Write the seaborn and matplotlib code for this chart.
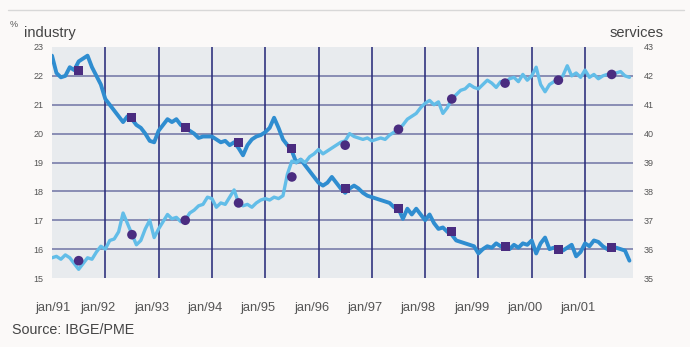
import numpy as np
import pandas as pd
import matplotlib
matplotlib.use("Agg")
import matplotlib.pyplot as plt
import matplotlib.transforms as mtransforms
import seaborn as sns
from matplotlib.lines import Line2D

# ---------------- data (monthly, jan/1991 .. nov/2001) ----------------
start_year = 1991
n_months = 131

industry = [
    # 1991
    22.7, 22.1, 21.95, 22.0, 22.3, 22.2, 22.5, 22.6, 22.7, 22.3, 22.0, 21.7,
    # 1992
    21.2, 21.0, 20.8, 20.6, 20.4, 20.6, 20.5, 20.3, 20.2, 20.0, 19.75, 19.7,
    # 1993
    20.1, 20.3, 20.5, 20.4, 20.5, 20.3, 20.2, 20.1, 20.0, 19.85, 19.9, 19.9,
    # 1994
    19.9, 19.8, 19.7, 19.75, 19.6, 19.7, 19.5, 19.25, 19.6, 19.8, 19.9, 19.95,
    # 1995
    20.05, 20.2, 20.55, 20.2, 19.8, 19.6, 19.4, 19.0, 19.1, 18.9, 18.7, 18.5,
    # 1996
    18.3, 18.2, 18.3, 18.5, 18.3, 18.1, 17.95, 18.1, 18.2, 18.1, 17.95, 17.85,
    # 1997
    17.8, 17.75, 17.7, 17.65, 17.6, 17.45, 17.4, 17.05, 17.4, 17.2, 17.4, 17.2,
    # 1998
    17.0, 17.2, 16.9, 16.7, 16.75, 16.6, 16.5, 16.3, 16.25, 16.2, 16.15, 16.1,
    # 1999
    15.85, 16.0, 16.1, 16.05, 16.2, 16.1, 16.1, 16.0, 16.15, 16.05, 16.2, 16.15,
    # 2000
    16.3, 15.85, 16.2, 16.4, 16.0, 16.05, 16.0, 15.95, 16.05, 16.15, 15.75, 15.9,
    # 2001
    16.2, 16.1, 16.3, 16.25, 16.1, 16.0, 16.05, 16.05, 16.0, 15.95, 15.6,
]

services = [
    # 1991
    35.7, 35.75, 35.65, 35.8, 35.7, 35.5, 35.3, 35.5, 35.7, 35.65, 35.9, 36.1,
    # 1992
    36.0, 36.3, 36.35, 36.6, 37.25, np.nan, np.nan, 36.15, 36.3, 36.7, 37.0, 36.4,
    # 1993
    36.7, 36.95, 37.2, 37.05, 37.1, 36.95, 37.0, 37.25, 37.35, 37.5, 37.55, 37.8,
    # 1994
    37.75, 37.45, 37.6, 37.55, 37.8, 38.05, 37.6, 37.5, 37.55, 37.45, 37.6, 37.7,
    # 1995
    37.75, 37.7, 37.8, 37.75, 37.85, 38.6, 39.05, 39.0, 39.1, 39.0, 39.2, 39.3,
    # 1996
    39.45, 39.3, 39.4, 39.5, 39.6, 39.7, 39.75, 40.0, 39.9, 39.85, 39.8, 39.85,
    # 1997
    39.75, 39.8, 39.85, 39.8, 39.95, 40.05, 40.15, 40.3, 40.5, 40.6, 40.7, 40.9,
    # 1998
    41.05, 41.15, 41.0, 41.1, 40.7, 40.9, 41.2, 41.35, 41.5, 41.55, 41.7, 41.6,
    # 1999
    41.55, 41.7, 41.85, 41.75, 41.6, 41.8, 41.75, 41.9, 41.95, 41.8, 42.05, 41.85,
    # 2000
    42.0, 42.3, 41.7, 41.45, 41.7, 41.8, 41.85, 42.0, 42.35, 42.0, 42.1, 41.95,
    # 2001
    42.2, 41.95, 42.05, 41.9, 42.0, 42.05, 42.05, 42.1, 42.15, 42.0, 41.95,
]

# annual averages (markers, mid-year)
years = list(range(1991, 2002))
industry_avg = [22.2, 20.55, 20.2, 19.7, 19.5, 18.1, 17.4, 16.6, 16.1, 16.0, 16.05]
services_avg = [35.6, 36.5, 37.0, 37.6, 38.5, 39.6, 40.15, 41.2, 41.75, 41.85, 42.05]

tick_labels = ["jan/91", "jan/92", "jan/93", "jan/94", "jan/95", "jan/96",
               "jan/97", "jan/98", "jan/99", "jan/00", "jan/01"]

# ---------------- frames ----------------
t = start_year + np.arange(n_months) / 12.0
df = pd.DataFrame({"t": t, "industry": industry, "services": services})
avg = pd.DataFrame({"t": np.array(years) + 0.5,
                    "industry": industry_avg, "services": services_avg})

# ---------------- style ----------------
sns.set_theme(style="white")
fam = ["Liberation Sans", "DejaVu Sans"]
plt.rcParams["font.family"] = fam

W, H = 690, 347
fig = plt.figure(figsize=(W / 100, H / 100), dpi=100)
fig.patch.set_facecolor("#fbf9f8")

left, right, top, bottom = 52, 633, 47, 278
ax = fig.add_axes([left / W, 1 - bottom / H, (right - left) / W, (bottom - top) / H])
ax.set_facecolor("#e8ebee")
ax2 = ax.twinx()

ind_col = "#2f8dd0"
srv_col = "#62bde8"
mk_col = "#4a2c80"

ax.set_xlim(start_year, start_year + 130.8 / 12)
ax.set_ylim(15, 23)
ax2.set_ylim(35, 43)

# grid
for yv in range(16, 23):
    ax.axhline(yv, color="#3d4185", lw=1.1, alpha=0.7, zorder=1)
for xv in years[1:]:
    ax.axvline(xv, color="#2c2f7c", lw=1.3, alpha=0.9, zorder=1)

sns.lineplot(data=df, x="t", y="industry", ax=ax, color=ind_col, lw=2.8,
             zorder=3, solid_joinstyle="round")
sns.lineplot(data=df, x="t", y="services", ax=ax2, color=srv_col, lw=2.4,
             zorder=3, solid_joinstyle="round")
sns.scatterplot(data=avg, x="t", y="industry", ax=ax, marker="s", s=42,
                color=mk_col, edgecolor="none", zorder=5)
sns.scatterplot(data=avg, x="t", y="services", ax=ax2, marker="o", s=48,
                color=mk_col, edgecolor="none", zorder=5)

# ticks
ax.set_xticks(years)
ax.set_xticklabels(tick_labels, fontsize=9.3, color="#555555")
ax.set_yticks(range(15, 24))
ax.set_yticklabels([str(v) for v in range(15, 24)], fontsize=6.5, color="#555555")
ax2.set_yticks(range(35, 44))
ax2.set_yticklabels([str(v) for v in range(35, 44)], fontsize=6.5, color="#555555")
ax.tick_params(axis="x", length=0, pad=17)
ax.tick_params(axis="y", length=0, pad=6)
ax2.tick_params(axis="y", length=0, pad=8)
for a in (ax, ax2):
    a.set_xlabel("")
    a.set_ylabel("")
    for s in a.spines.values():
        s.set_visible(False)

# x labels in the reference sit a little left of their gridlines
for i, lab in enumerate(ax.get_xticklabels()):
    dx = 1 if i == 0 else -7
    lab.set_transform(lab.get_transform() +
                      mtransforms.ScaledTranslation(dx / 100, 0, fig.dpi_scale_trans))

# texts
fig.text(10 / W, 1 - 27 / H, "%", fontsize=6.5, color="#555555")
fig.text(24 / W, 1 - 37 / H, "industry", fontsize=10.5, color="#444444")
fig.text(664 / W, 1 - 37 / H, "services", fontsize=10.5, color="#444444", ha="right")
fig.text(12 / W, 1 - 334 / H, "Source: IBGE/PME", fontsize=10.3, color="#444444")

# faint top border line
fig.add_artist(Line2D([8 / W, 684 / W], [1 - 10 / H, 1 - 10 / H],
                      color="#d8d8d8", lw=1.0))

fig.savefig("out.png", dpi=100, facecolor=fig.get_facecolor())
